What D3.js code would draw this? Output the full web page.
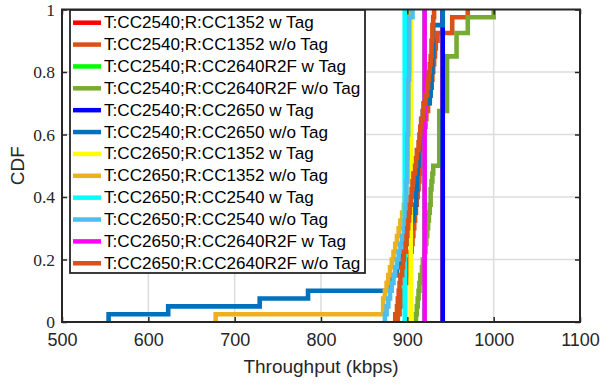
<!DOCTYPE html>
<html><head><meta charset="utf-8">
<script src="https://cdn.jsdelivr.net/npm/d3@7"></script>
<style>body{margin:0;background:#fff}svg{display:block}</style>
</head><body>
<svg id="chart" width="600" height="386"></svg>
<script>
// ---- data (throughput samples in kbps, empirical CDF) ----
const legendLabels = [
  "T:CC2540;R:CC1352 w Tag",
  "T:CC2540;R:CC1352 w/o Tag",
  "T:CC2540;R:CC2640R2F w Tag",
  "T:CC2540;R:CC2640R2F w/o Tag",
  "T:CC2540;R:CC2650 w Tag",
  "T:CC2540;R:CC2650 w/o Tag",
  "T:CC2650;R:CC1352 w Tag",
  "T:CC2650;R:CC1352 w/o Tag",
  "T:CC2650;R:CC2540 w Tag",
  "T:CC2650;R:CC2540 w/o Tag",
  "T:CC2650;R:CC2640R2F w Tag",
  "T:CC2650;R:CC2640R2F w/o Tag"
];
const lineColors = ["#FF0000","#D95319","#00FF00","#77AC30","#0000FF","#0072BD",
                    "#FFFF00","#EDB120","#00FFFF","#4DBEEE","#FF00FF","#D95319"];

const t2540_r1352_w = [941];
const t2540_r1352_wo = [889,891,893,895,897,899,901,902,903,905,
                        906,907,908,909,910,911,912,913,914,915,
                        916,917,918,919,920,921,922,924,925,927,
                        928,929,930,931,932,933,935,952,952,970];
const t2540_r2640_w = [920];
const t2540_r2640_wo = [910,911,912,913,914,915,917,918,920,921,
                        922,923,924,925,926,927,927,928,929,930,
                        937,937,937,937,937,937,937,946,946,946,
                        946,946,946,946,957,957,957,970,970,1000];
const t2540_r2650_w = [941];
const t2540_r2650_wo = [554,623,729,785,877,882,888,892,895,898,
                        901,903,905,907,909,910,910,911,911,912,
                        913,913,914,915,916,917,918,919,926,927,
                        928,928,929,929,930,930,930,930,941,941];
const t2650_r1352_w = [904];
const t2650_r1352_wo = [678,872,872,874,876,878,880,882,884,886,
                        888,890,892,894,896,897,898,898,899,899,
                        899,900,900,900,900,900,901,901,901,901,
                        901,901,902,902,902,902,902,902,902,902];
const t2650_r2540_w = [897];
const t2650_r2540_wo = [874,876,878,880,882,884,886,888,890,892,
                        894,896,897,898,898,899,899,899,900,900,
                        900,900,900,900,901,901,901,901,901,901,
                        901,902,902,902,902,902,902,902,902,906];
const t2650_r2640_w = [920];
const t2650_r2640_wo = [886,888,889,890,891,892,894,895,896,898,
                        899,900,901,902,903,904,905,906,907,909,
                        910,911,913,914,915,916,918,919,921,923,
                        924,925,926,927,928,928,929,929,930,931];

const seriesSamples = [t2540_r1352_w,t2540_r1352_wo,t2540_r2640_w,t2540_r2640_wo,
  t2540_r2650_w,t2540_r2650_wo,t2650_r1352_w,t2650_r1352_wo,
  t2650_r2540_w,t2650_r2540_wo,t2650_r2640_w,t2650_r2640_wo];

const xTicks = [500,600,700,800,900,1000,1100];
const yTicks = [0,0.2,0.4,0.6,0.8,1];
const yTickLabels = ["0","0.2","0.4","0.6","0.8","1"];
const xLabel = "Throughput (kbps)";
const yLabel = "CDF";

// ---- layout ----
const L = 62, R = 580, T = 9.5, B = 322;
const svg = d3.select("#chart");
const x = d3.scaleLinear().domain([500,1100]).range([L,R]);
const y = d3.scaleLinear().domain([0,1]).range([B,T]);
const axisColor = "#262626";
const sans = "'Liberation Sans', Arial, Helvetica, sans-serif";
const serif = "'Liberation Serif', 'Times New Roman', serif";

// grid
const grid = svg.append("g");
grid.selectAll("line.gx").data(xTicks.slice(1,-1)).join("line")
  .attr("x1",d=>x(d)).attr("x2",d=>x(d)).attr("y1",T).attr("y2",B)
  .attr("stroke","#dcdcdc").attr("stroke-width",1.5);
grid.selectAll("line.gy").data(yTicks.slice(1,-1)).join("line")
  .attr("y1",d=>y(d)).attr("y2",d=>y(d)).attr("x1",L).attr("x2",R)
  .attr("stroke","#dcdcdc").attr("stroke-width",1.5);

// data
svg.append("clipPath").attr("id","plotclip").append("rect")
  .attr("x",L).attr("y",T).attr("width",R-L).attr("height",B-T);
function ecdf(samples){
  const s = samples.slice().sort((a,b)=>a-b), n = s.length, pts = [];
  s.forEach((v,i)=>{ pts.push([v,i/n]); pts.push([v,(i+1)/n]); });
  return pts;
}
const line = d3.line().x(d=>x(d[0])).y(d=>y(d[1]));
const dataG = svg.append("g").attr("clip-path","url(#plotclip)");
seriesSamples.forEach((s,i)=>{
  dataG.append("path").attr("d",line(ecdf(s))).attr("fill","none")
    .attr("stroke",lineColors[i]).attr("stroke-width",4.6)
    .attr("stroke-linejoin","miter").attr("stroke-linecap","butt");
});

// axes
function styleAxis(g, font, size){
  g.select(".domain").remove();
  g.selectAll(".tick line").attr("stroke",axisColor).attr("stroke-width",1.5);
  g.selectAll(".tick text").attr("fill",axisColor).style("font-family",font).style("font-size",size+"px");
}
const xAxisG = svg.append("g").attr("transform",`translate(0,${B})`)
  .call(d3.axisBottom(x).tickValues(xTicks).tickSizeInner(-5).tickSizeOuter(0).tickPadding(11).tickFormat(d3.format("d")));
styleAxis(xAxisG, sans, 18);
const xTopG = svg.append("g").attr("transform",`translate(0,${T})`)
  .call(d3.axisTop(x).tickValues(xTicks).tickSizeInner(-5).tickSizeOuter(0).tickFormat(""));
styleAxis(xTopG, sans, 18);
const yAxisG = svg.append("g").attr("transform",`translate(${L},0)`)
  .call(d3.axisLeft(y).tickValues(yTicks).tickSizeInner(-5).tickSizeOuter(0).tickPadding(7).tickFormat((d,i)=>yTickLabels[i]));
styleAxis(yAxisG, serif, 17.5);
const yRightG = svg.append("g").attr("transform",`translate(${R},0)`)
  .call(d3.axisRight(y).tickValues(yTicks).tickSizeInner(-5).tickSizeOuter(0).tickFormat(""));
styleAxis(yRightG, serif, 17.5);

svg.append("rect").attr("x",L).attr("y",T).attr("width",R-L).attr("height",B-T)
  .attr("fill","none").attr("stroke",axisColor).attr("stroke-width",2);

svg.append("text").attr("x",(L+R)/2).attr("y",373).attr("text-anchor","middle")
  .attr("fill",axisColor).style("font-family",sans).style("font-size","19px").text(xLabel);
svg.append("text").attr("transform",`translate(24,${(T+B)/2}) rotate(-90)`).attr("text-anchor","middle")
  .attr("fill",axisColor).style("font-family",sans).style("font-size","19px").text(yLabel);

// legend
const lg = svg.append("g");
lg.append("rect").attr("x",70).attr("y",10).attr("width",295).attr("height",263)
  .attr("fill","#fff").attr("stroke",axisColor).attr("stroke-width",1.8);
legendLabels.forEach((lab,i)=>{
  const cy = 22.7 + i*21.87;
  lg.append("line").attr("x1",73).attr("x2",101).attr("y1",cy).attr("y2",cy)
    .attr("stroke",lineColors[i]).attr("stroke-width",4.5);
  lg.append("text").attr("x",104).attr("y",cy).attr("dominant-baseline","central")
    .attr("fill","#000").style("font-family",sans).style("font-size","17.1px").text(lab);
});
</script>
</body></html>
